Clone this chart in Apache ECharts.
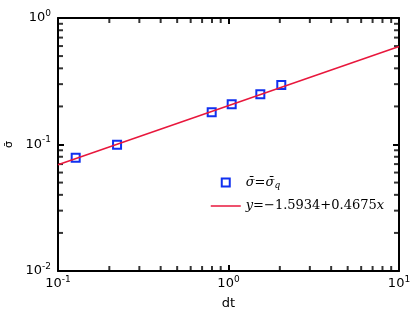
<!DOCTYPE html>
<html><head><meta charset="utf-8">
<script src="https://cdn.jsdelivr.net/npm/echarts@6/dist/echarts.min.js"></script>
<style>html,body{margin:0;padding:0;background:#fff}#c{width:420px;height:315px}</style>
</head><body><div id="c"></div>
<script>
const dtValues = [0.127, 0.222, 0.797, 1.044, 1.537, 2.04];
const sigmaValues = [0.0787, 0.0996, 0.1796, 0.208, 0.2492, 0.2958];
const fitX = [0.1, 10];
const fitY = [0.0692, 0.596];
const xMinorTicks = [0.2, 0.3, 0.4, 0.5, 0.6, 0.7, 0.8, 0.9, 2, 3, 4, 5, 6, 7, 8, 9];
const yMinorTicks = [0.02, 0.03, 0.04, 0.05, 0.06, 0.07, 0.08, 0.09, 0.2, 0.3, 0.4, 0.5, 0.6, 0.7, 0.8, 0.9];
const seriesNames = ['sig', 'fit'];

const X_MIN = 0.1, X_MAX = 10, Y_MIN = 0.01, Y_MAX = 1;
const chart = echarts.init(document.getElementById('c'), null, {renderer: 'canvas'});
const font = 'DejaVu Sans';
function pow10(v) {
  const e = Math.round(Math.log10(v));
  return '{b|10}{s|' + e + '}';
}
const richLab = {
  b: {fontSize: 13, fontFamily: font, color: '#000'},
  s: {fontSize: 9, fontFamily: font, color: '#000', padding: [0, 0, 9, 0]}
};
function majorAxis(min, max, pos, extra) {
  return Object.assign({
    type: 'log', logBase: 10, min: min, max: max, position: pos,
    axisLine: {show: true, onZero: false, lineStyle: {color: '#000', width: 2}},
    axisTick: {show: true, inside: true, length: 6, lineStyle: {color: '#000', width: 2}},
    axisLabel: {show: false},
    splitLine: {show: false}
  }, extra || {});
}
const TL = 5, TW = 2;
function tickSeries(points, size, offset) {
  return {
    type: 'scatter', xAxisIndex: 0, yAxisIndex: 0, clip: false,
    data: points, symbol: 'rect', symbolSize: size, symbolOffset: offset,
    itemStyle: {color: '#000'}
  };
}
const option = {
  animation: false,
  backgroundColor: '#fff',
  grid: {left: 58, right: 21, top: 18, bottom: 44, outerBoundsMode: 'none', containLabel: false},
  xAxis: [
    majorAxis(X_MIN, X_MAX, 'bottom', {
      name: 'dt', nameLocation: 'middle', nameGap: 26,
      nameTextStyle: {fontFamily: font, fontSize: 13, color: '#000'},
      axisLabel: {show: true, formatter: pow10, rich: richLab, margin: 4}
    }),
    majorAxis(X_MIN, X_MAX, 'top')
  ],
  yAxis: [
    majorAxis(Y_MIN, Y_MAX, 'left', {
      name: '\u03c3\u0304', nameLocation: 'middle', nameGap: 34, nameRotate: 90,
      nameTextStyle: {fontFamily: font, fontSize: 11, color: '#000'},
      axisLabel: {show: true, formatter: pow10, rich: richLab, margin: 7}
    }),
    majorAxis(Y_MIN, Y_MAX, 'right')
  ],
  legend: {
    orient: 'vertical', left: 205, top: 171,
    itemWidth: 30, itemHeight: 10, itemGap: 9,
    data: [
      {name: seriesNames[0], icon: 'path://M0,0 H10 V10 H0 Z M2,2 V8 H8 V2 Z', itemStyle: {color: '#1030f0', borderWidth: 0}},
      {name: seriesNames[1], itemStyle: {color: 'rgba(0,0,0,0)', borderWidth: 0}, lineStyle: {color: '#e8173c', width: 1.5}}
    ],
    formatter: function (n) {
      if (n === 'sig') return '{i|\u03c3\u0304}{r|=}{i|\u03c3\u0304}{sub|q}';
      return '{i|y}{r|=\u22121.5934+0.4675}{i|x}';
    },
    textStyle: {
      rich: {
        i: {fontFamily: 'DejaVu Serif', fontStyle: 'italic', fontSize: 13, color: '#000'},
        r: {fontFamily: 'DejaVu Serif', fontSize: 13, color: '#000'},
        sub: {fontFamily: 'DejaVu Serif', fontStyle: 'italic', fontSize: 9, color: '#000', padding: [7, 0, 0, 0]}
      }
    }
  },
  series: [
    {
      name: seriesNames[1], type: 'line', xAxisIndex: 0, yAxisIndex: 0,
      data: fitX.map((x, i) => [x, fitY[i]]),
      showSymbol: false, symbol: 'none',
      lineStyle: {color: '#e8173c', width: 1.5}, itemStyle: {color: '#e8173c'}
    },
    {
      name: seriesNames[0], type: 'scatter', xAxisIndex: 0, yAxisIndex: 0,
      data: dtValues.map((x, i) => [x, sigmaValues[i]]),
      symbol: 'rect', symbolSize: 8, symbolKeepAspect: true,
      itemStyle: {color: '#fff', borderColor: '#1030f0', borderWidth: 2, opacity: 1}
    },
    tickSeries(xMinorTicks.map(v => [v, Y_MIN]), [TW, TL], [0, -TL / 2]),
    tickSeries(xMinorTicks.map(v => [v, Y_MAX]), [TW, TL], [0, TL / 2]),
    tickSeries(yMinorTicks.map(v => [X_MIN, v]), [TL, TW], [TL / 2, 0]),
    tickSeries(yMinorTicks.map(v => [X_MAX, v]), [TL, TW], [-TL / 2, 0])
  ]
};
chart.setOption(option);
</script></body></html>
